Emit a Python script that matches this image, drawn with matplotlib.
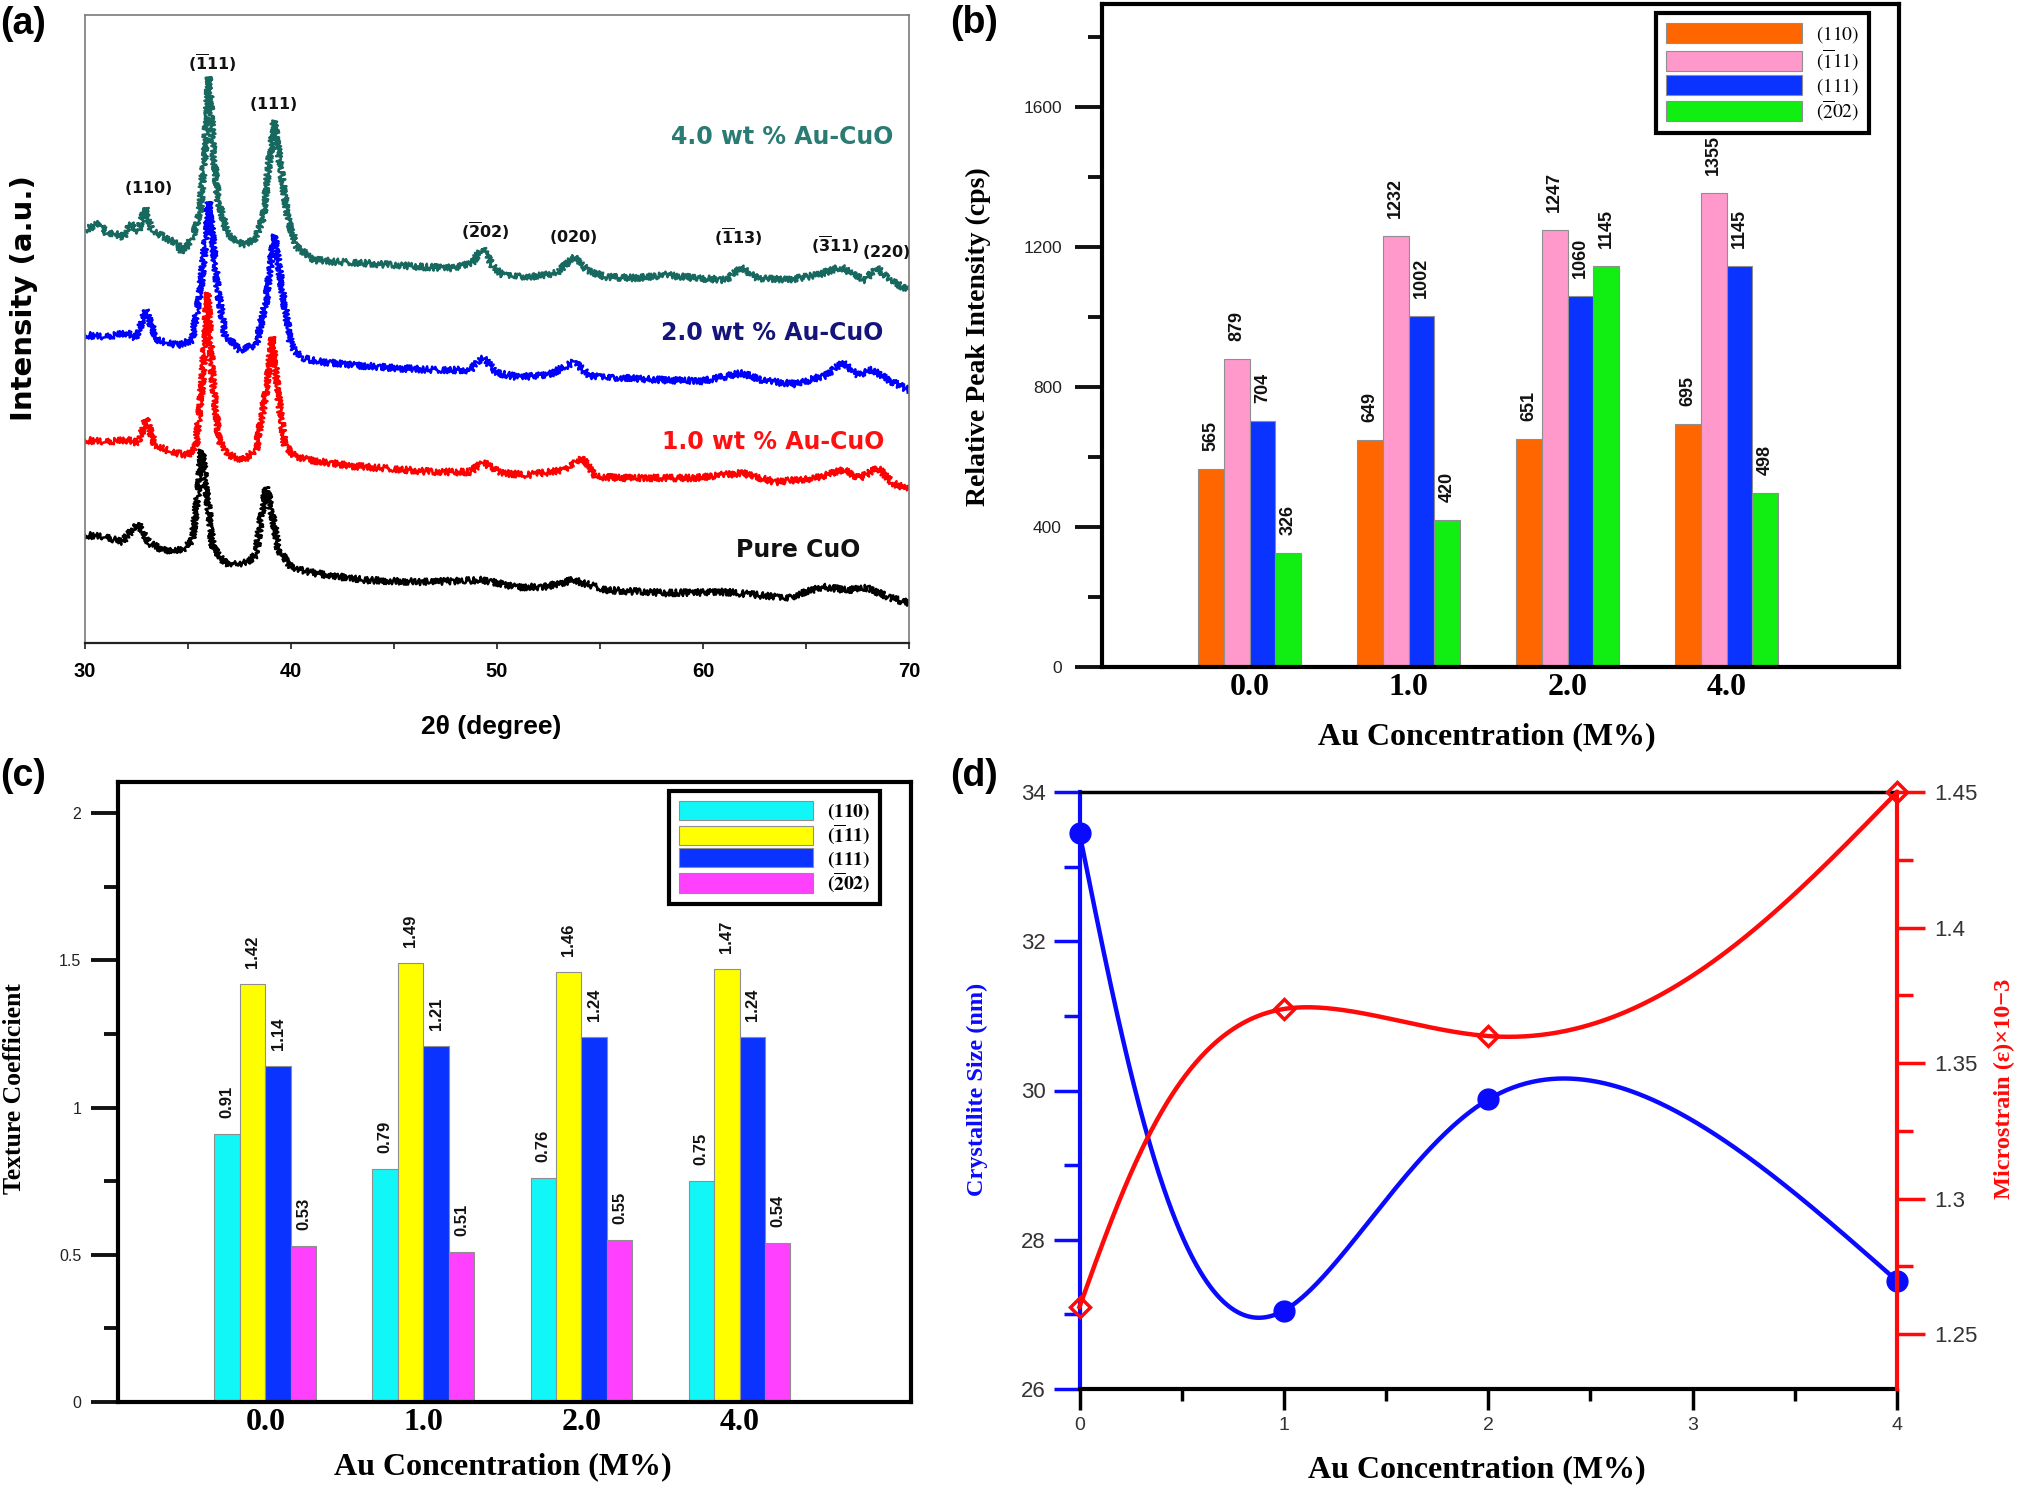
import numpy as np
import matplotlib
matplotlib.use('Agg')
import matplotlib.pyplot as plt
from matplotlib.ticker import MultipleLocator, FuncFormatter

# ======================= DATA =======================
# (a) XRD patterns: 2-theta (degree) and stacked intensity (a.u.)
tt_4wt = [30.0, 30.73, 31.1, 31.47, 31.85, 32.2, 32.58, 32.93, 33.25, 33.52, 34.11, 34.5, 34.7, 35.0,
          35.29, 35.58, 35.82, 36.02, 36.22, 36.46, 36.9, 37.63, 38.22, 38.66, 38.95, 39.19, 39.45,
          39.83, 40.27, 41.15, 42.33, 43.5, 44.97, 46.44, 47.9, 48.79, 49.29, 49.82, 50.26, 51.73,
          52.9, 53.73, 54.37, 55.25, 56.72, 58.19, 59.66, 61.13, 61.86, 62.6, 64.07, 65.54, 66.71,
          67.3, 67.89, 68.42, 69.06, 70.0]
int_4wt = [413, 420, 408, 410, 405, 420, 411, 435, 412, 410, 403, 400, 390, 398,
           410, 430, 493, 566, 493, 443, 410, 398, 403, 426, 483, 522, 483,
           426, 396, 383, 381, 380, 378, 376, 375, 380, 395, 376, 368, 366,
           370, 386, 373, 366, 365, 368, 365, 363, 376, 365, 363, 368, 376,
           368, 363, 376, 363, 353]

tt_2wt = [30.0, 31.0, 32.0, 32.5, 32.93, 33.5, 34.5, 35.2, 35.6, 35.85, 36.02, 36.2, 36.45, 36.8,
          37.5, 38.3, 38.8, 39.0, 39.2, 39.4, 39.65, 40.0, 40.5, 41.5, 43.0, 45.0, 47.0, 48.7,
          49.3, 50.0, 51.0, 52.5, 53.75, 54.5, 56.0, 58.0, 60.0, 61.9, 63.0, 64.5, 66.0, 66.8,
          67.5, 68.2, 69.0, 70.0]
int_2wt = [308, 306, 310, 305, 333, 303, 298, 303, 353, 403, 441, 403, 353, 308,
           293, 298, 343, 378, 408, 378, 343, 298, 285, 281, 278, 275, 273, 273,
           286, 270, 266, 268, 281, 267, 265, 263, 262, 270, 262, 259, 268, 281,
           268, 273, 263, 253]

tt_1wt = [30.0, 31.0, 32.0, 32.6, 32.95, 33.4, 34.2, 35.0, 35.4, 35.7, 35.95, 36.2, 36.5, 37.0,
          37.7, 38.3, 38.8, 39.1, 39.35, 39.7, 40.2, 41.5, 43.0, 45.0, 47.0, 48.7, 49.3, 50.2,
          51.5, 53.3, 54.1, 54.8, 56.5, 59.5, 61.9, 63.5, 65.5, 66.8, 67.6, 68.5, 69.2, 70.0]
int_1wt = [203, 201, 203, 200, 225, 198, 191, 188, 198, 263, 350, 263, 203, 188,
           183, 193, 253, 306, 253, 198, 186, 181, 177, 174, 171, 171, 181, 170,
           168, 173, 186, 166, 165, 165, 170, 161, 165, 173, 165, 175, 160, 153]

tt_pure = [30.0, 31.0, 31.8, 32.58, 33.1, 33.8, 34.7, 35.2, 35.45, 35.67, 35.9, 36.2, 36.8, 37.8,
           38.3, 38.6, 38.81, 39.05, 39.4, 40.0, 41.1, 43.5, 46.4, 49.3, 50.9, 52.3, 53.7, 55.3,
           58.2, 61.1, 62.6, 64.1, 65.8, 67.0, 68.0, 69.1, 70.0]
int_pure = [108, 106, 101, 120, 100, 93, 93, 103, 143, 193, 153, 96, 80, 80,
            88, 133, 156, 133, 93, 76, 70, 63, 61, 63, 56, 56, 63, 53,
            50, 51, 48, 45, 56, 53, 55, 45, 40]

sample_names = ['4.0 wt % Au-CuO', '2.0 wt % Au-CuO', '1.0 wt % Au-CuO', 'Pure CuO']
peak_names = [r'$\mathbf{(110)}$', r'$\mathbf{(\overline{1}11)}$', r'$\mathbf{(111)}$',
              r'$\mathbf{(\overline{2}02)}$', r'$\mathbf{(020)}$', r'$\mathbf{(\overline{1}13)}$',
              r'$\mathbf{(\overline{3}11)}$', r'$\mathbf{(220)}$']

# (b) relative peak intensity (cps)
conc_labels = ['0.0', '1.0', '2.0', '4.0']
plane_labels_b = [r'$(110)$', r'$(\overline{1}11)$', r'$(111)$', r'$(\overline{2}02)$']
int_110 = [565, 649, 651, 695]
int_m111 = [879, 1232, 1247, 1355]
int_111 = [704, 1002, 1060, 1145]
int_m202 = [326, 420, 1145, 498]

# (c) texture coefficient
plane_labels_c = [r'$\mathbf{(110)}$', r'$\mathbf{(\overline{1}11)}$', r'$\mathbf{(111)}$',
                  r'$\mathbf{(\overline{2}02)}$']
tc_110 = [0.91, 0.79, 0.76, 0.75]
tc_m111 = [1.42, 1.49, 1.46, 1.47]
tc_111 = [1.14, 1.21, 1.24, 1.24]
tc_m202 = [0.53, 0.51, 0.55, 0.54]

# (d) crystallite size and microstrain
au_conc = [0, 1, 2, 4]
cryst_size = [33.45, 27.05, 29.88, 27.45]
microstrain = [1.26, 1.37, 1.36, 1.45]

# ======================= FIGURE =======================
plt.rcParams['font.family'] = ['Liberation Sans', 'DejaVu Sans']
W, H = 2030, 1489
fig = plt.figure(figsize=(W / 100, H / 100), dpi=100)
fig.patch.set_facecolor('white')


def rect(l, r, t, b):
    return [l / W, 1 - b / H, (r - l) / W, (b - t) / H]


SERIF = ['Liberation Serif', 'DejaVu Serif']
fmt_g = FuncFormatter(lambda v, p: f'{v:g}')

# ---------------- (a) ----------------
axA = fig.add_axes(rect(85, 909, 15, 643))
series_a = [(tt_4wt, int_4wt, '#17695f'), (tt_2wt, int_2wt, '#0000ff'),
            (tt_1wt, int_1wt, '#ff0000'), (tt_pure, int_pure, '#000000')]
for tt, ii, col in series_a:
    ln, = axA.plot(tt, ii, color=col, lw=1.8, solid_joinstyle='round')
    ln.set_sketch_params(3.3, 2.5, 2.0)
axA.set_xlim(30, 70)
axA.set_ylim(0, 628)
axA.set_yticks([])
axA.set_xticks([30, 40, 50, 60, 70], labels=['30', '40', '50', '60', '70'],
               fontweight='bold', fontsize=14.5)
axA.xaxis.set_minor_locator(MultipleLocator(5))
axA.tick_params(axis='x', which='both', direction='out', length=4.5, width=1.3,
                color='#333333', pad=9)
for s in ['left', 'top', 'right']:
    axA.spines[s].set_color('#7a7a7a')
    axA.spines[s].set_linewidth(1.2)
axA.spines['bottom'].set_color('#222222')
axA.spines['bottom'].set_linewidth(1.6)
axA.set_xlabel('2θ (degree)', fontsize=19, fontweight='bold', va='center')
axA.xaxis.set_label_coords(0.4927, -0.1338)
axA.set_ylabel('Intensity (a.u.)', fontsize=21, fontweight='bold', family='DejaVu Sans',
               va='center')
axA.yaxis.set_label_coords(-0.074, 0.549)

name_pos = [(63.83, 506, '#2a7b73'), (63.37, 310, '#14147a'), (63.40, 201, '#ff1010'),
            (64.64, 93, '#111111')]
for name, (x, y, c) in zip(sample_names, name_pos):
    axA.text(x, y, name, color=c, ha='center', va='center', family='DejaVu Sans',
             fontweight='bold', fontsize=17)
peak_pos = [(33.06, 455), (36.17, 578), (39.13, 539), (49.42, 410), (53.69, 406),
            (61.70, 404), (66.41, 396), (68.88, 391)]
for name, (x, y) in zip(peak_names, peak_pos):
    axA.text(x, y - 5, name, ha='center', va='baseline', fontsize=11.5,
             math_fontfamily='dejavusans', color='#111111')

# ---------------- bar panels helper ----------------
def bar_panel(ax, series, colors, labels, ylim, major, minor, label_fmt, offset_pt,
              val_size, leg_anchor, leg_kw, leg_math):
    x = np.arange(len(conc_labels))
    w = 0.161
    for k, (vals, col, lab) in enumerate(zip(series, colors, labels)):
        xs = x + (k - 1.5) * w
        ax.bar(xs, vals, w, color=col, edgecolor='#8f8f8f', linewidth=0.8, label=lab)
        for xi, v in zip(xs, vals):
            ax.annotate(label_fmt(v), (xi, v), xytext=(0, offset_pt), textcoords='offset points',
                        rotation=90, ha='center', va='bottom', fontsize=val_size,
                        fontweight='bold', color='#111111')
    ax.set_xlim(-0.932, 4.085)
    ax.set_ylim(*ylim)
    ax.set_xticks(x, labels=conc_labels, family=SERIF, fontweight='bold', fontsize=23)
    ax.tick_params(axis='x', length=0, pad=4)
    ax.yaxis.set_major_locator(MultipleLocator(major))
    ax.yaxis.set_minor_locator(MultipleLocator(minor))
    ax.yaxis.set_major_formatter(fmt_g)
    ax.tick_params(axis='y', which='major', direction='out', length=19.5, width=2.8,
                   color='#111111', labelcolor='#222222')
    ax.tick_params(axis='y', which='minor', direction='out', length=10, width=2.8,
                   color='#111111')
    for s in ax.spines.values():
        s.set_linewidth(3)
        s.set_color('black')
    leg = ax.legend(loc='upper right', bbox_to_anchor=leg_anchor, borderaxespad=0,
                    frameon=True, fancybox=False, edgecolor='black', framealpha=1,
                    **leg_kw)
    leg.get_frame().set_linewidth(3)
    for t in leg.get_texts():
        t.set_math_fontfamily(leg_math)
    return ax


# ---------------- (b) ----------------
axB = fig.add_axes(rect(1101.5, 1899, 4, 667))
bar_panel(axB, [int_110, int_m111, int_111, int_m202],
          ['#ff6600', '#ff99cc', '#0a33ff', '#11ee11'], plane_labels_b,
          (0, 1894), 400, 200, lambda v: f'{v}', 13, 13, (0.962, 0.986),
          dict(fontsize=14, handlelength=7.0, handleheight=1.2, labelspacing=0.1,
               handletextpad=0.7, borderpad=0.5), 'stix')
axB.tick_params(axis='y', labelsize=12.5, pad=9)
axB.set_xlabel('Au Concentration (M%)', family=SERIF, fontweight='bold', fontsize=23,
               va='center')
axB.xaxis.set_label_coords(0.4834, -0.1056)
axB.set_ylabel('Relative Peak Intensity (cps)', family=SERIF, fontweight='bold',
               fontsize=20, va='center')
axB.yaxis.set_label_coords(-0.1549, 0.4977)

# ---------------- (c) ----------------
axC = fig.add_axes(rect(118, 911, 781.5, 1402))
bar_panel(axC, [tc_110, tc_m111, tc_111, tc_m202],
          ['#11f7f7', '#ffff00', '#0a33ff', '#ff40ff'], plane_labels_c,
          (0, 2.107), 0.5, 0.25, lambda v: f'{v:.2f}', 11.5, 12, (0.961, 0.985),
          dict(fontsize=14, handlelength=6.9, handleheight=1.15, labelspacing=0.05,
               handletextpad=0.7, borderpad=0.5), 'stix')
axC.tick_params(axis='y', labelsize=11.5, pad=7)
axC.set_xlabel('Au Concentration (M%)', family=SERIF, fontweight='bold', fontsize=23,
               va='center')
axC.xaxis.set_label_coords(0.4855, -0.1048)
axC.set_ylabel('Texture Coefficient', family=SERIF, fontweight='bold', fontsize=18.5,
               va='center')
axC.yaxis.set_label_coords(-0.1299, 0.5044)

# ---------------- (d) ----------------
axD = fig.add_axes(rect(1079.5, 1897, 792, 1389))
axD2 = axD.twinx()
D_W, D_H = 1897 - 1079.5, 1389 - 792
xlim_d = (0, 4)
ylim_d = (26, 34)
ylim_d2 = (1.2297, 1.4501)


def natural_M(t, y):
    n = len(t)
    h = np.diff(t)
    A = np.zeros((n, n))
    rhs = np.zeros(n)
    A[0, 0] = 1
    A[-1, -1] = 1
    for i in range(1, n - 1):
        A[i, i - 1] = h[i - 1]
        A[i, i] = 2 * (h[i - 1] + h[i])
        A[i, i + 1] = h[i]
        rhs[i] = 6 * ((y[i + 1] - y[i]) / h[i] - (y[i] - y[i - 1]) / h[i - 1])
    return np.linalg.solve(A, rhs)


def eval_spline(t, y, M, tt):
    idx = np.clip(np.searchsorted(t, tt) - 1, 0, len(t) - 2)
    t0, t1 = t[idx], t[idx + 1]
    h = t1 - t0
    a = (t1 - tt) / h
    b = (tt - t0) / h
    return a * y[idx] + b * y[idx + 1] + ((a ** 3 - a) * M[idx] + (b ** 3 - b) * M[idx + 1]) * h ** 2 / 6


def smooth(xs, ys, xl, yl, n=500):
    u = (np.asarray(xs, float) - xl[0]) / (xl[1] - xl[0]) * D_W
    v = (np.asarray(ys, float) - yl[0]) / (yl[1] - yl[0]) * D_H
    t = np.concatenate([[0.0], np.cumsum(np.hypot(np.diff(u), np.diff(v)))])
    tt = np.linspace(0, t[-1], n)
    uu = eval_spline(t, u, natural_M(t, u), tt)
    vv = eval_spline(t, v, natural_M(t, v), tt)
    return xl[0] + uu / D_W * (xl[1] - xl[0]), yl[0] + vv / D_H * (yl[1] - yl[0])


BLUE_D = '#0a0aff'
RED_D = '#ff0a0a'
sx, sy = smooth(au_conc, cryst_size, xlim_d, ylim_d)
axD.plot(sx, sy, color=BLUE_D, lw=3.2, clip_on=False, zorder=3)
axD.plot(au_conc, cryst_size, 'o', ms=15, color=BLUE_D, clip_on=False, zorder=4)
rx, ry = smooth(au_conc, microstrain, xlim_d, ylim_d2)
axD2.plot(rx, ry, color=RED_D, lw=3.2, clip_on=False, zorder=3)
axD2.plot(au_conc, microstrain, 'D', ms=10, mfc='none', mec=RED_D, mew=2.5,
          clip_on=False, zorder=4)

axD.set_xlim(*xlim_d)
axD.set_ylim(*ylim_d)
axD2.set_ylim(*ylim_d2)
axD.xaxis.set_major_locator(MultipleLocator(1))
axD.xaxis.set_minor_locator(MultipleLocator(0.5))
axD.yaxis.set_major_locator(MultipleLocator(2))
axD.yaxis.set_minor_locator(MultipleLocator(1))
axD2.yaxis.set_major_locator(MultipleLocator(0.05))
axD2.yaxis.set_minor_locator(MultipleLocator(0.025))
axD.yaxis.set_major_formatter(fmt_g)
axD2.yaxis.set_major_formatter(fmt_g)

axD.tick_params(axis='x', which='major', direction='out', length=15, width=2.5,
                color='black', labelsize=14, labelcolor='#333333', pad=5)
axD.tick_params(axis='x', which='minor', direction='out', length=8.6, width=2.5, color='black')
axD.tick_params(axis='y', which='major', direction='out', length=18.7, width=2.5,
                color=BLUE_D, labelsize=16, labelcolor='#333333', pad=5.4)
axD.tick_params(axis='y', which='minor', direction='out', length=11.5, width=2.5, color=BLUE_D)
axD2.tick_params(axis='y', which='major', direction='out', length=20, width=2.5,
                 color=RED_D, labelsize=16, labelcolor='#333333', pad=7)
axD2.tick_params(axis='y', which='minor', direction='out', length=11.5, width=2.5, color=RED_D)

axD.spines['left'].set_color(BLUE_D)
axD.spines['left'].set_linewidth(3)
axD.spines['right'].set_visible(False)
axD.spines['top'].set_color('black')
axD.spines['top'].set_linewidth(2.5)
axD.spines['bottom'].set_color('black')
axD.spines['bottom'].set_linewidth(3)
axD2.spines['right'].set_color(RED_D)
axD2.spines['right'].set_linewidth(3)
for s in ['left', 'top', 'bottom']:
    axD2.spines[s].set_visible(False)

axD.set_xlabel('Au Concentration (M%)', family=SERIF, fontweight='bold', fontsize=23,
               va='center')
axD.xaxis.set_label_coords(0.4862, -0.1357)
axD.set_ylabel('Crystallite Size (nm)', family=SERIF, fontweight='bold', fontsize=17.5,
               color=BLUE_D, va='center')
axD.yaxis.set_label_coords(-0.1248, 0.5025)
axD2.set_ylabel('Microstrain (ε)×10−3', family=SERIF, fontweight='bold', fontsize=17.5,
                color=RED_D, va='center', rotation=90)
axD2.yaxis.set_label_coords(1.1309, 0.5025)

# ---------------- panel letters ----------------
for lab, px, py in [('(a)', 0, 6), ('(b)', 950, 5), ('(c)', 0, 758), ('(d)', 950, 758)]:
    fig.text(px / W, 1 - py / H, lab, ha='left', va='top', fontsize=27, fontweight='bold')

fig.savefig('out.png', dpi=100)
